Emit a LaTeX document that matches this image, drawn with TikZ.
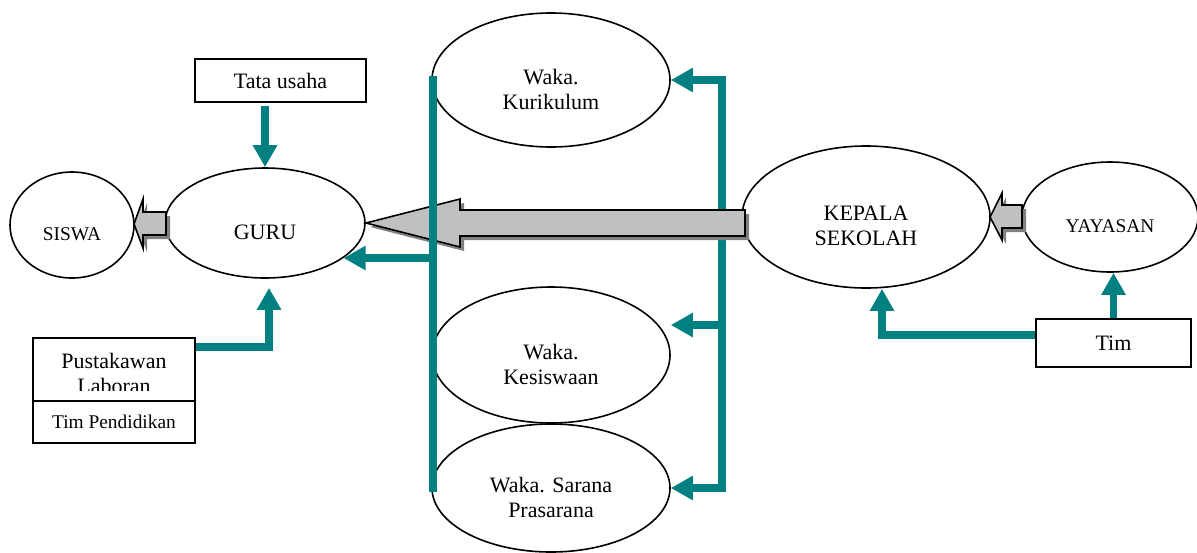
\documentclass[tikz,border=0pt]{standalone}
\usepackage{fontspec}
\setmainfont{Liberation Serif}
\usetikzlibrary{shapes.geometric,arrows.meta}
\definecolor{tealc}{RGB}{0,128,128}
\definecolor{arrowgray}{RGB}{192,192,192}
\definecolor{shadowgray}{RGB}{128,128,128}
\tikzset{
  tealline/.style={draw=tealc,line width=3.8pt,line cap=rect},
  tealarrow/.style={draw=tealc,line width=3.8pt,-{Triangle[width=11.5pt,length=11pt]}},
  blockarrow/.style={fill=arrowgray,draw=black,line width=0.8pt,line join=miter},
  blockshadow/.style={fill=shadowgray,xshift=2pt,yshift=-2pt},
  bigfont/.style={font=\fontsize{11}{12.5}\selectfont},
  smallfont/.style={font=\fontsize{9.7}{11}\selectfont},
  ovaltext/.style={bigfont,align=center,yshift=-4.5pt}
}
\begin{document}
\begin{tikzpicture}[x=0.5pt,y=-0.5pt]
\useasboundingbox (0,0) rectangle (1197,552);

% ovals
\begin{scope}[every node/.style={ellipse,draw,line width=0.8pt,inner sep=0pt}]
  \node[minimum width=62pt,minimum height=53pt,label={[ovaltext,smallfont]center:SISWA}]              (siswa)   at (72,225)   {};
  \node[minimum width=100pt,minimum height=55pt,label={[ovaltext]center:GURU}]                       (guru)    at (265,223)  {};
  \node[minimum width=119pt,minimum height=67pt,label={[ovaltext]center:Waka.\\Kurikulum}]           (kur)     at (551,80)   {};
  \node[minimum width=119pt,minimum height=68pt,label={[ovaltext]center:Waka.\\Kesiswaan}]           (kes)     at (551,355)  {};
  \node[minimum width=119pt,minimum height=64pt,label={[ovaltext]center:Waka. Sarana\\Prasarana}]    (sar)     at (551,488)  {};
  \node[minimum width=124pt,minimum height=71pt,label={[ovaltext]center:KEPALA\\SEKOLAH}]            (kepala)  at (866,217)  {};
  \node[minimum width=88pt,minimum height=55pt,label={[ovaltext,smallfont]center:YAYASAN}]           (yayasan) at (1110,217) {};
\end{scope}

% boxes
\begin{scope}[every node/.style={rectangle,draw,line width=0.8pt,inner sep=0pt,align=center}]
  \node[bigfont,minimum width=85.5pt,minimum height=21.5pt] (tata) at (280.5,80.5) {Tata usaha};
  \node[minimum width=81pt,minimum height=31.5pt]           (pust) at (114,369.5)  {};
  \node[smallfont,minimum width=81pt,minimum height=21pt]   (timp) at (114,422)    {Tim Pendidikan};
  \node[bigfont,minimum width=77.5pt,minimum height=24pt]   (tim)  at (1113.5,343) {Tim};
\end{scope}
\begin{scope}
  \clip (pust.north west) rectangle ([yshift=5.5pt]pust.south east);
  \node[bigfont,align=center] at (114,373) {Pustakawan\\Laboran};
\end{scope}

\coordinate (kurl) at (433,80);
\coordinate (gurl) at (433,258);
\coordinate (sarl) at (433,488);
\coordinate (kurr) at (722,80);
\coordinate (kesr) at (722,325);
\coordinate (sarr) at (722,488);

% right line to the waka
\draw[tealline] (kurr) -- (sarr);
\draw[tealarrow] (kurr) -- (kur.east);
\draw[tealarrow] (kesr) -- (kes.east |- kesr);
\draw[tealarrow] (sarr) -- (sar.east |- sarr);

% gray arrows
\fill[blockshadow] (366,223) -- (460,199) -- (460,210) -- (745,210) -- (745,236) -- (460,236) -- (460,247) -- cycle;
\draw[blockarrow]  (366,223) -- (460,199) -- (460,210) -- (745,210) -- (745,236) -- (460,236) -- (460,247) -- cycle;
\fill[blockshadow] (134,224) -- (143,199) -- (143,212) -- (166,212) -- (166,235) -- (143,235) -- (143,248) -- cycle;
\draw[blockarrow]  (134,224) -- (143,199) -- (143,212) -- (166,212) -- (166,235) -- (143,235) -- (143,248) -- cycle;
\fill[blockshadow] (990,217) -- (1002,193) -- (1002,205) -- (1022,205) -- (1022,228) -- (1002,228) -- (1002,240) -- cycle;
\draw[blockarrow]  (990,217) -- (1002,193) -- (1002,205) -- (1022,205) -- (1022,228) -- (1002,228) -- (1002,240) -- cycle;

% left line to guru
\draw[tealline] (kurl) -- (sarl);
\draw[tealarrow] (gurl) -- (gurl -| guru.-24);

\draw[tealarrow] ([yshift=-1.5pt]tata.south -| guru.north) -- (guru.north);
\draw[tealarrow] ([yshift=-5pt]pust.north east) -| ([xshift=2pt,yshift=-4.5pt]guru.south);
\draw[tealarrow] ([yshift=4pt]tim.west) -| ([xshift=8pt]kepala.south);
\draw[tealarrow] (tim.north) -- (tim.north |- yayasan.south);

\end{tikzpicture}
\end{document}
